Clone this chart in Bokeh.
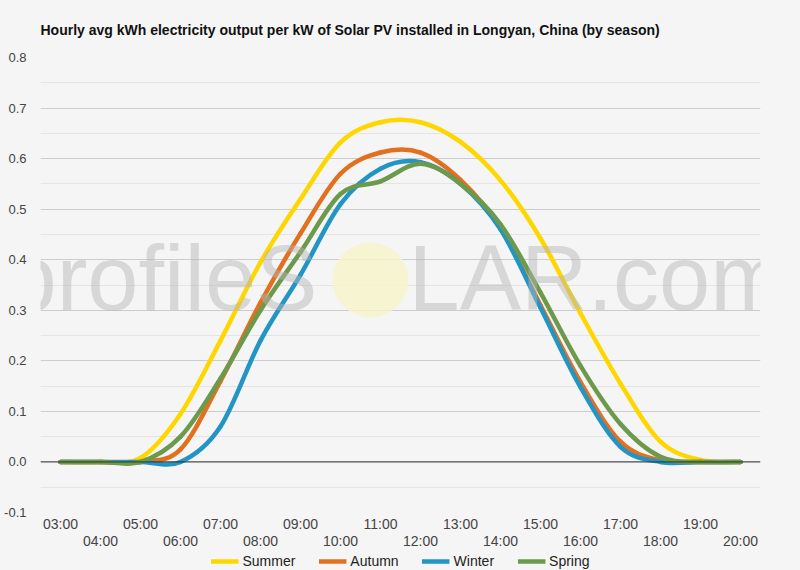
from bokeh.plotting import figure
from bokeh.layouts import column
from bokeh.models import (FixedTicker, LinearAxis, Legend, LegendItem, Span, Label,
                          NumeralTickFormatter, ColumnDataSource, Range1d)
from bokeh.embed import file_html
from bokeh.resources import INLINE

# ---------------- data ----------------
hours = ["03:00", "04:00", "05:00", "06:00", "07:00", "08:00", "09:00", "10:00", "11:00",
         "12:00", "13:00", "14:00", "15:00", "16:00", "17:00", "18:00", "19:00", "20:00"]
summer = [0.0, 0.0, 0.008, 0.095, 0.24, 0.395, 0.52, 0.632, 0.672, 0.672, 0.633, 0.557,
          0.442, 0.294, 0.155, 0.04, 0.004, 0.0]
autumn = [0.0, 0.0, 0.0, 0.025, 0.16, 0.315, 0.452, 0.57, 0.612, 0.612, 0.558, 0.462,
          0.31, 0.158, 0.04, 0.003, 0.0, 0.0]
winter = [0.0, 0.0, 0.0, 0.0, 0.07, 0.24, 0.37, 0.51, 0.58, 0.593, 0.55, 0.46,
          0.305, 0.148, 0.03, 0.0, 0.0, 0.0]
spring = [0.0, 0.0, 0.0, 0.05, 0.165, 0.30, 0.415, 0.53, 0.555, 0.59, 0.55, 0.47,
          0.335, 0.19, 0.075, 0.01, 0.0, 0.0]
series_names = ["Summer", "Autumn", "Winter", "Spring"]
series_colors = ["#FFD700", "#E2701F", "#2295C4", "#6C9A4C"]
y_ticks = [-0.1, 0.0, 0.1, 0.2, 0.3, 0.4, 0.5, 0.6, 0.7, 0.8]

title = "Hourly avg kWh electricity output per kW of Solar PV installed in Longyan, China (by season)"
FONT = "Liberation Sans"
BG = "#f5f5f5"
LINE_W = 4.5

n = len(hours)
xs = list(range(n))
all_series = [summer, autumn, winter, spring]

p = figure(frame_width=720, frame_height=455, output_backend="svg", toolbar_location=None,
           x_range=Range1d(-0.5, n - 0.5), y_range=Range1d(y_ticks[0], y_ticks[-1]),
           min_border_left=40, min_border_right=40, min_border_top=57, min_border_bottom=0,
           background_fill_color=BG, border_fill_color=BG, outline_line_color=None)

p.title.text = title
p.title.text_font = FONT
p.title.text_font_size = "14px"
p.title.text_font_style = "bold"
p.title.text_color = "#111111"
p.title.standoff = 39

# y axis / grid
yticker = FixedTicker(ticks=y_ticks,
                      minor_ticks=[(a + b) / 2 for a, b in zip(y_ticks[:-1], y_ticks[1:])])
p.yaxis.ticker = yticker
p.ygrid.ticker = yticker
p.yaxis.formatter = NumeralTickFormatter(format="0.0")
p.yaxis.axis_line_color = None
p.yaxis.major_tick_line_color = None
p.yaxis.minor_tick_line_color = None
p.yaxis.major_label_standoff = 8
p.yaxis.major_label_text_font = FONT
p.yaxis.major_label_text_font_size = "13px"
p.yaxis.major_label_text_color = "#444444"
p.ygrid.grid_line_color = "#cccccc"
p.ygrid.minor_grid_line_color = "#e4e4e4"
p.xgrid.grid_line_color = None

# x axes: two staggered rows
overrides = {i: h for i, h in enumerate(hours)}
ax1 = p.xaxis[0]
ax1.ticker = FixedTicker(ticks=xs[0::2])
ax2 = LinearAxis(ticker=FixedTicker(ticks=xs[1::2]))
p.add_layout(ax2, "below")
for ax, so in ((ax1, 3), (ax2, -2)):
    ax.major_label_overrides = overrides
    ax.axis_line_color = None
    ax.major_tick_line_color = None
    ax.minor_tick_line_color = None
    ax.major_tick_out = 0
    ax.major_tick_in = 0
    ax.major_label_standoff = so
    ax.major_label_text_font = FONT
    ax.major_label_text_font_size = "14px"
    ax.major_label_text_color = "#444444"

# zero line
p.add_layout(Span(location=0, dimension="width", line_color="#333333", line_width=1))


def smooth_source(vals):
    d = dict(x0=[], y0=[], x1=[], y1=[], cx0=[], cy0=[], cx1=[], cy1=[])
    m = len(vals)
    for i in range(m - 1):
        im1 = max(i - 1, 0)
        ip2 = min(i + 2, m - 1)
        d["x0"].append(xs[i]); d["y0"].append(vals[i])
        d["x1"].append(xs[i + 1]); d["y1"].append(vals[i + 1])
        d["cx0"].append(xs[i] + (xs[i + 1] - xs[im1]) / 6)
        d["cy0"].append(vals[i] + (vals[i + 1] - vals[im1]) / 6)
        d["cx1"].append(xs[i + 1] - (xs[ip2] - xs[i]) / 6)
        d["cy1"].append(vals[i + 1] - (vals[ip2] - vals[i]) / 6)
    return ColumnDataSource(d)


for vals, col in zip(all_series, series_colors):
    p.bezier(x0="x0", y0="y0", x1="x1", y1="y1", cx0="cx0", cy0="cy0",
             cx1="cx1", cy1="cy1", source=smooth_source(vals),
             line_color=col, line_width=LINE_W, line_cap="round")

# watermark
WM_COLOR = "#b4b4b4"
WM_ALPHA = 0.47
p.ellipse(x=[7.75], y=[0.36], width=1.9, height=0.148, fill_color="#f7f4c8",
          fill_alpha=0.8, line_color=None, level="overlay")
p.add_layout(Label(x=-1.375, y=0.263, text="profileS", text_font=FONT, text_font_size="92px",
                   text_color=WM_COLOR, text_alpha=WM_ALPHA, level="overlay"))
p.add_layout(Label(x=8.7, y=0.263, text="LAR.com", text_font=FONT, text_font_size="92px",
                   text_color=WM_COLOR, text_alpha=WM_ALPHA, level="overlay"))

# legend strip (separate small figure so the legend sits below the two label rows)
lg = figure(width=800, height=20, output_backend="svg", toolbar_location=None,
            x_range=Range1d(-0.5, n - 0.5), y_range=Range1d(y_ticks[0], y_ticks[-1]),
            x_axis_type=None, y_axis_type=None,
            min_border=0, background_fill_color=BG, border_fill_color=BG,
            outline_line_color=None)
lg.grid.visible = False
items = []
for name, vals, col in zip(series_names, all_series, series_colors):
    r = lg.line(x=xs, y=vals, line_color=col, line_width=LINE_W, visible=False)
    items.append(LegendItem(label=name, renderers=[r]))
legend = Legend(items=items, orientation="horizontal", location="center",
                label_text_font=FONT, label_text_font_size="14px", label_text_color="#222222",
                glyph_width=28, glyph_height=14, label_height=14, label_standoff=4,
                spacing=23, padding=0, margin=0, border_line_color=None,
                background_fill_alpha=0, inactive_fill_alpha=0)
lg.add_layout(legend)

layout = column(p, lg, spacing=0, styles={"background-color": BG})
open("out.html", "w").write(file_html(layout, INLINE))
